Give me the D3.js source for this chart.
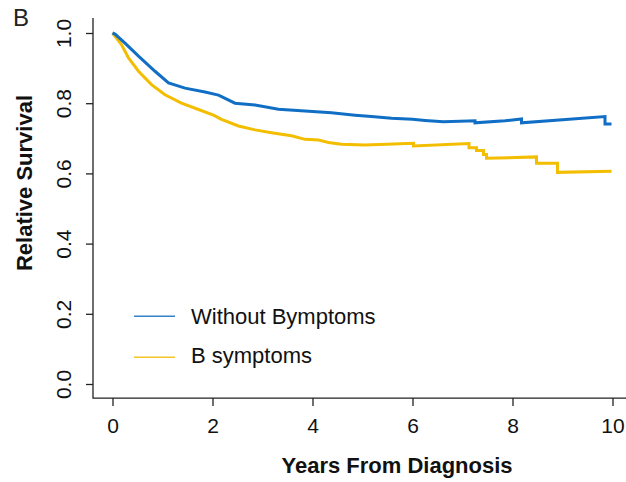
<!DOCTYPE html>
<html>
<head>
<meta charset="utf-8">
<script src="https://cdn.jsdelivr.net/npm/d3@7"></script>
<style>
  html, body { margin: 0; padding: 0; background: #fff; }
  svg { display: block; font-family: "Liberation Sans", Arial, sans-serif; }
</style>
</head>
<body>
<svg id="chart" width="626" height="482"></svg>
<script>
// ---- data ----
const xTicks = [0, 2, 4, 6, 8, 10];
const yTicks = [0.0, 0.2, 0.4, 0.6, 0.8, 1.0];
const seriesNames = ["Without Bymptoms", "B symptoms"];

const noBTime = [0, 0.05, 0.25, 0.52, 0.85, 1.12, 1.45, 1.85, 2.12, 2.45, 2.85, 3.32, 3.85, 4.38, 4.85, 5.18, 5.58, 6.0, 6.25, 6.62, 7.25, 7.25, 7.85, 8.18, 8.18, 9.85, 9.85, 9.98];
const noBSurv = [1.0, 0.997, 0.971, 0.934, 0.891, 0.858, 0.843, 0.832, 0.823, 0.800, 0.795, 0.783, 0.778, 0.773, 0.766, 0.762, 0.757, 0.754, 0.751, 0.747, 0.750, 0.744, 0.750, 0.755, 0.744, 0.762, 0.741, 0.741];

const bTime = [0, 0.18, 0.32, 0.52, 0.78, 1.05, 1.38, 1.72, 2.02, 2.18, 2.52, 2.85, 3.18, 3.58, 3.85, 4.12, 4.32, 4.58, 5.05, 6.02, 6.02, 7.13, 7.13, 7.28, 7.28, 7.42, 7.42, 7.48, 7.48, 8.48, 8.48, 8.9, 8.9, 9.98];
const bSurv = [1.0, 0.967, 0.929, 0.891, 0.853, 0.824, 0.800, 0.782, 0.766, 0.754, 0.735, 0.724, 0.716, 0.707, 0.697, 0.695, 0.688, 0.683, 0.681, 0.686, 0.678, 0.685, 0.673, 0.673, 0.665, 0.665, 0.654, 0.654, 0.643, 0.647, 0.629, 0.629, 0.603, 0.606];

// ---- chart ----
const svg = d3.select("#chart");
const colors = ["#106fc5", "#f3bd00"];
const x = d3.scaleLinear().domain([0, 10]).range([112.5, 612.5]);
const y = d3.scaleLinear().domain([0, 1]).range([384, 33]);
const axisColor = "#222";

// L-shaped box
svg.append("path")
  .attr("d", `M${x(-0.39)},${y(1.043)}V${y(-0.04)}H626`)
  .attr("fill", "none").attr("stroke", axisColor).attr("stroke-width", 1.3);

// y axis
const yAxis = svg.append("g").attr("transform", `translate(${x(-0.39)},0)`)
  .call(d3.axisLeft(y).tickValues(yTicks).tickSize(7).tickFormat(d3.format(".1f")));
yAxis.select(".domain").remove();
yAxis.selectAll(".tick line").attr("stroke", axisColor).attr("stroke-width", 1.3);
yAxis.selectAll(".tick text")
  .attr("x", 0).attr("dy", null).attr("text-anchor", "middle")
  .attr("transform", "translate(-22,0) rotate(-90)")
  .attr("font-size", 21).attr("fill", "#111")
  .attr("font-family", "Liberation Sans, Arial, sans-serif");

// x axis
const xAxis = svg.append("g").attr("transform", `translate(0,${y(-0.04)})`)
  .call(d3.axisBottom(x).tickValues(xTicks).tickSize(8).tickFormat(d3.format("d")));
xAxis.select(".domain").remove();
xAxis.selectAll(".tick line").attr("stroke", axisColor).attr("stroke-width", 1.3);
xAxis.selectAll(".tick text")
  .attr("y", 35).attr("dy", null)
  .attr("font-size", 21).attr("fill", "#111")
  .attr("font-family", "Liberation Sans, Arial, sans-serif");

// axis titles
svg.append("text").attr("x", 397).attr("y", 473).attr("text-anchor", "middle")
  .attr("font-size", 22).attr("font-weight", "bold").attr("fill", "#111")
  .text("Years From Diagnosis");
svg.append("text").attr("transform", "translate(32,183) rotate(-90)").attr("text-anchor", "middle")
  .attr("font-size", 22).attr("font-weight", "bold").attr("fill", "#111")
  .text("Relative Survival");

// panel label
svg.append("text").attr("x", 13).attr("y", 26).attr("font-size", 24).attr("fill", "#222").text("B");

// curves
const line = d3.line().x(d => x(d[0])).y(d => y(d[1])).curve(d3.curveLinear);
const series = [d3.zip(noBTime, noBSurv), d3.zip(bTime, bSurv)];
// draw yellow first then blue on top
[1, 0].forEach(i => {
  svg.append("path").datum(series[i])
    .attr("d", line).attr("fill", "none")
    .attr("stroke", colors[i]).attr("stroke-width", 3)
    .attr("stroke-linejoin", "miter");
});

// legend
const legY = [y(0.193), y(0.076)];
const legText = [324, 363];
seriesNames.forEach((name, i) => {
  svg.append("line").attr("x1", 134).attr("x2", 175)
    .attr("y1", legY[i]).attr("y2", legY[i])
    .attr("stroke", colors[i]).attr("stroke-width", 1.6).attr("opacity", 0.85);
  svg.append("text").attr("x", 191).attr("y", legText[i])
    .attr("font-size", 22).attr("fill", "#111").text(name);
});
</script>
</body>
</html>
